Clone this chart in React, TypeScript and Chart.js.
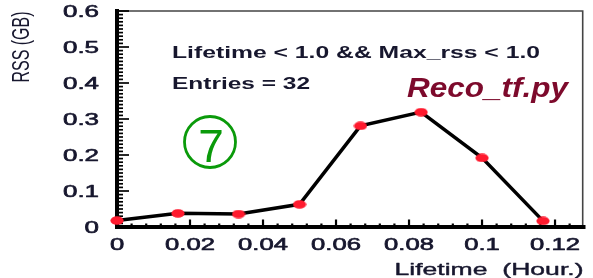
import React, { useEffect, useRef } from "react";
import { Chart, registerables } from "chart.js";

Chart.register(...registerables);

// ---- data ----
const lifetimeHours = [0, 0.0167, 0.0333, 0.05, 0.0667, 0.0833, 0.1, 0.1167];
const rssGB = [0.018, 0.038, 0.036, 0.063, 0.281, 0.319, 0.192, 0.017];
const xTickValues = [0, 0.02, 0.04, 0.06, 0.08, 0.1, 0.12];
const xTickLabels = ["0", "0.02", "0.04", "0.06", "0.08", "0.1", "0.12"];
const yTickValues = [0, 0.1, 0.2, 0.3, 0.4, 0.5, 0.6];
const yTickLabels = ["0", "0.1", "0.2", "0.3", "0.4", "0.5", "0.6"];
const xAxisTitle = "Lifetime  (Hour.)";
const yAxisTitle = "RSS (GB)";
const cutText = "Lifetime < 1.0 && Max_rss < 1.0";
const entriesText = "Entries = 32";
const jobName = "Reco_tf.py";
const panelNumber = "7";

const FONT = "'Liberation Sans', Arial, Helvetica, sans-serif";
const TEXT_COLOR = "#17172e";

function makeDot(): HTMLCanvasElement {
  const c = document.createElement("canvas");
  c.width = 14;
  c.height = 9;
  const g = c.getContext("2d")!;
  g.fillStyle = "#ff1a2e";
  g.beginPath();
  g.ellipse(7, 4.5, 6.6, 4.3, 0, 0, Math.PI * 2);
  g.fill();
  return c;
}

function drawStretched(
  ctx: CanvasRenderingContext2D,
  text: string,
  x: number,
  y: number,
  font: string,
  sx: number,
  align: "left" | "right" | "center",
  baseline: CanvasTextBaseline,
  color: string,
  thicken = 0
) {
  ctx.save();
  ctx.font = font;
  ctx.fillStyle = color;
  ctx.strokeStyle = color;
  ctx.textBaseline = baseline;
  ctx.textAlign = "left";
  const w = ctx.measureText(text).width * sx;
  let left = x;
  if (align === "right") left = x - w;
  if (align === "center") left = x - w / 2;
  ctx.translate(left, y);
  ctx.scale(sx, 1);
  ctx.fillText(text, 0, 0);
  if (thicken > 0) {
    ctx.lineWidth = thicken;
    ctx.lineJoin = "round";
    ctx.strokeText(text, 0, 0);
  }
  ctx.restore();
}

function fitWidth(ctx: CanvasRenderingContext2D, text: string, font: string, target: number) {
  ctx.save();
  ctx.font = font;
  const w = ctx.measureText(text).width;
  ctx.restore();
  return target / w;
}

const framePlugin = {
  id: "rootFrame",
  beforeDatasetsDraw(chart: any) {
    const ctx: CanvasRenderingContext2D = chart.ctx;
    const { left, right, top, bottom } = chart.chartArea;
    const xs = chart.scales.x;
    const ys = chart.scales.y;
    ctx.save();
    // thin top/right border
    ctx.strokeStyle = "#444";
    ctx.lineWidth = 1.6;
    ctx.beginPath();
    ctx.moveTo(left, top);
    ctx.lineTo(right - 0.8, top);
    ctx.lineTo(right - 0.8, bottom);
    ctx.stroke();
    // ticks on y (inside)
    ctx.strokeStyle = "#000";
    ctx.lineWidth = 1.7;
    for (let i = 0; i <= 60; i++) {
      const v = i * 0.01;
      const py = ys.getPixelForValue(v);
      const len = i % 10 === 0 ? 12 : 6;
      ctx.beginPath();
      ctx.moveTo(left, py);
      ctx.lineTo(left + len, py);
      ctx.stroke();
    }
    // ticks on x (inside)
    ctx.lineWidth = 2.2;
    for (let i = 0; i <= 31; i++) {
      const v = i * 0.004;
      const px = xs.getPixelForValue(v);
      if (px > right) break;
      const len = i % 5 === 0 ? 7.5 : 3.5;
      ctx.beginPath();
      ctx.moveTo(px, bottom);
      ctx.lineTo(px, bottom - len);
      ctx.stroke();
    }
    // thick left and bottom axes
    ctx.lineWidth = 4;
    ctx.lineCap = "square";
    ctx.beginPath();
    ctx.moveTo(left, top);
    ctx.lineTo(left, bottom);
    ctx.lineTo(right, bottom);
    ctx.stroke();
    ctx.restore();
  },
  afterDraw(chart: any) {
    const ctx: CanvasRenderingContext2D = chart.ctx;
    const { left, right, bottom } = chart.chartArea;
    const xs = chart.scales.x;
    const ys = chart.scales.y;
    const tickFont = `16px ${FONT}`;
    // y tick labels
    yTickValues.forEach((v, i) => {
      drawStretched(ctx, yTickLabels[i], left - 18, ys.getPixelForValue(v) + 1.5, tickFont, 1.62, "right", "middle", TEXT_COLOR, 0.6);
    });
    // x tick labels
    xTickValues.forEach((v, i) => {
      drawStretched(ctx, xTickLabels[i], xs.getPixelForValue(v), bottom + 19, tickFont, 1.6, "center", "middle", TEXT_COLOR, 0.6);
    });
    // x title
    const xtFont = `17px ${FONT}`;
    drawStretched(ctx, xAxisTitle, right, 275, xtFont, fitWidth(ctx, xAxisTitle, xtFont, 189), "right", "alphabetic", TEXT_COLOR, 0.4);
    // y title rotated, stretched in screen x
    ctx.save();
    ctx.font = `16px ${FONT}`;
    ctx.fillStyle = TEXT_COLOR;
    ctx.textAlign = "center";
    ctx.textBaseline = "middle";
    ctx.translate(22, 47);
    ctx.scale(1.55, 1);
    ctx.rotate(-Math.PI / 2);
    ctx.fillText(yAxisTitle, 0, 0);
    ctx.restore();
    // annotations
    const annFont = `bold 17px ${FONT}`;
    drawStretched(ctx, cutText, 172, 58, annFont, fitWidth(ctx, cutText, annFont, 368), "left", "alphabetic", TEXT_COLOR);
    drawStretched(ctx, entriesText, 172, 89, annFont, fitWidth(ctx, entriesText, annFont, 138), "left", "alphabetic", TEXT_COLOR);
    const recoFont = `italic bold 28px ${FONT}`;
    drawStretched(ctx, jobName, 407, 97, recoFont, fitWidth(ctx, jobName, recoFont, 161), "left", "alphabetic", "#7d0a2c");
    // circled number
    ctx.save();
    ctx.strokeStyle = "#0a9a0a";
    ctx.fillStyle = "#0a9a0a";
    ctx.lineWidth = 2.8;
    ctx.beginPath();
    ctx.arc(210, 142, 25.5, 0, Math.PI * 2);
    ctx.stroke();
    ctx.font = `46px ${FONT}`;
    ctx.textAlign = "center";
    ctx.textBaseline = "alphabetic";
    ctx.fillText(panelNumber, 211, 162);
    ctx.restore();
  },
};

export default function App() {
  const ref = useRef<HTMLCanvasElement | null>(null);
  useEffect(() => {
    document.body.style.margin = "0";
    const canvas = ref.current!;
    const dot = makeDot();
    const chart = new Chart(canvas, {
      type: "line",
      data: {
        datasets: [
          {
            data: lifetimeHours.map((x, i) => ({ x, y: rssGB[i] })),
            borderColor: "#000",
            borderWidth: 3.5,
            pointStyle: dot as any,
            pointRadius: 6,
            pointHoverRadius: 6,
            tension: 0,
            fill: false,
            clip: false as any,
          },
        ],
      },
      options: {
        animation: false,
        responsive: false,
        devicePixelRatio: 1,
        layout: { padding: { left: 117, right: 1, top: 11, bottom: 51 } },
        plugins: { legend: { display: false }, tooltip: { enabled: false }, title: { display: false } },
        events: [],
        scales: {
          x: { type: "linear", min: 0, max: 0.1278, display: false },
          y: { type: "linear", min: 0, max: 0.6, display: false },
        },
      },
      plugins: [framePlugin],
    });
    return () => chart.destroy();
  }, []);
  return (
    <div style={{ position: "absolute", left: 0, top: 0, width: 593, height: 278, background: "#fff" }}>
      <canvas ref={ref} width={593} height={278} style={{ width: 593, height: 278 }} />
    </div>
  );
}
